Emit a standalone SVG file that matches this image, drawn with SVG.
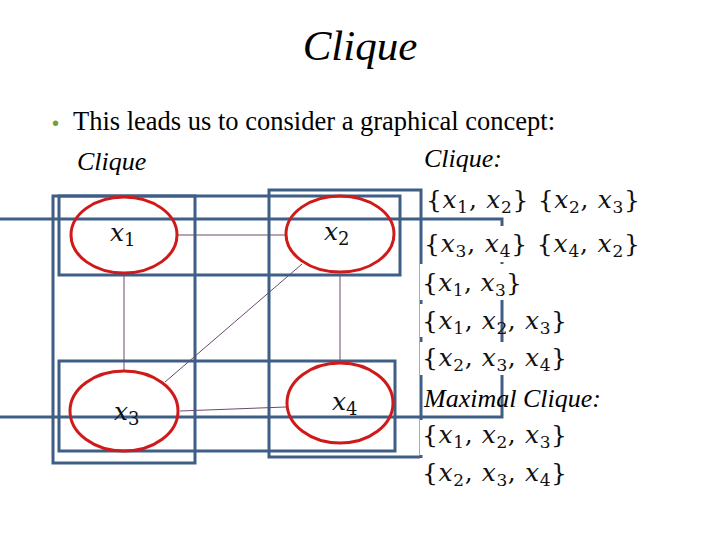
<svg xmlns="http://www.w3.org/2000/svg" width="720" height="540" viewBox="0 0 720 540">
<style>
.t{font-family:"Liberation Serif",serif;fill:#000}
.i{font-style:italic}
.m{font-family:"DejaVu Serif","Liberation Serif",serif;font-size:25px;fill:#111}
.box{fill:none;stroke:#3f5e85;stroke-width:3}
.ell{fill:none;stroke:#d01a1a;stroke-width:3}
.e{stroke:#6a4a70;stroke-width:1}
.bg{fill:#fff}
</style>
<rect width="720" height="540" fill="#fff"/>
<text class="t i" x="360" y="60" font-size="43" text-anchor="middle">Clique</text>
<text x="52" y="130" font-size="20" fill="#7a9a3a" font-family="Liberation Sans,sans-serif">•</text>
<text class="t" x="73" y="130" font-size="26.5">This leads us to consider a graphical concept:</text>
<text class="t i" x="77" y="170" font-size="26">Clique</text>
<g id="boxes">
<rect class="box" x="-5" y="219" width="507" height="198"/>
<rect class="box" x="59" y="196" width="341" height="79"/>
<rect class="box" x="53" y="196" width="142" height="267"/>
<rect class="box" x="269" y="190" width="152" height="267"/>
<rect class="box" x="59" y="361" width="336" height="90"/>
</g>
<g id="connectors">
<line class="e" x1="178" y1="235" x2="286" y2="235"/>
<line class="e" x1="124" y1="276" x2="124" y2="371"/>
<line class="e" x1="340" y1="276" x2="340" y2="362"/>
<line class="e" x1="302" y1="264" x2="165" y2="382"/>
<line class="e" x1="180" y1="411" x2="286" y2="407"/>
</g>
<g id="n1"><ellipse class="ell" cx="124" cy="235" rx="53" ry="38"/><text class="m i" x="110" y="241" font-size="27">x<tspan font-size="18" font-style="normal" dy="5">1</tspan></text></g>
<g id="n2"><ellipse class="ell" cx="340" cy="234" rx="54" ry="38"/><text class="m i" x="324" y="240" font-size="27">x<tspan font-size="18" font-style="normal" dy="5">2</tspan></text></g>
<g id="n3"><ellipse class="ell" cx="124" cy="411" rx="54" ry="40"/><text class="m i" x="114" y="420" font-size="27">x<tspan font-size="18" font-style="normal" dy="5">3</tspan></text></g>
<g id="n4"><ellipse class="ell" cx="340" cy="403" rx="53" ry="40"/><text class="m i" x="332" y="410" font-size="27">x<tspan font-size="18" font-style="normal" dy="5">4</tspan></text></g>
<g id="list">
<rect class="bg" x="424" y="226" width="218" height="36"/>
<rect class="bg" x="420" y="264" width="106" height="36"/>
<rect class="bg" x="420" y="304" width="80" height="33"/>
<rect class="bg" x="504" y="304" width="68" height="33"/>
<rect class="bg" x="420" y="342" width="150" height="33"/>
<rect class="bg" x="420" y="420" width="150" height="35"/>
<rect class="bg" x="420" y="458" width="150" height="35"/>
<text class="t i" x="424" y="167" font-size="26">Clique:</text>
<text class="m" x="426" y="208" textLength="214">{<tspan font-style="italic">x</tspan><tspan font-size="17" dy="5">1</tspan><tspan dy="-5">, </tspan><tspan font-style="italic">x</tspan><tspan font-size="17" dy="5">2</tspan><tspan dy="-5">} {</tspan><tspan font-style="italic">x</tspan><tspan font-size="17" dy="5">2</tspan><tspan dy="-5">, </tspan><tspan font-style="italic">x</tspan><tspan font-size="17" dy="5">3</tspan><tspan dy="-5">}</tspan></text>
<text class="m" x="424" y="252" textLength="216">{<tspan font-style="italic">x</tspan><tspan font-size="17" dy="5">3</tspan><tspan dy="-5">, </tspan><tspan font-style="italic">x</tspan><tspan font-size="17" dy="5">4</tspan><tspan dy="-5">} {</tspan><tspan font-style="italic">x</tspan><tspan font-size="17" dy="5">4</tspan><tspan dy="-5">, </tspan><tspan font-style="italic">x</tspan><tspan font-size="17" dy="5">2</tspan><tspan dy="-5">}</tspan></text>
<text class="m" x="422" y="291" textLength="100">{<tspan font-style="italic">x</tspan><tspan font-size="17" dy="5">1</tspan><tspan dy="-5">, </tspan><tspan font-style="italic">x</tspan><tspan font-size="17" dy="5">3</tspan><tspan dy="-5">}</tspan></text>
<text class="m" x="422" y="329" textLength="145">{<tspan font-style="italic">x</tspan><tspan font-size="17" dy="5">1</tspan><tspan dy="-5">, </tspan><tspan font-style="italic">x</tspan><tspan font-size="17" dy="5">2</tspan><tspan dy="-5">, </tspan><tspan font-style="italic">x</tspan><tspan font-size="17" dy="5">3</tspan><tspan dy="-5">}</tspan></text>
<text class="m" x="422" y="366" textLength="145">{<tspan font-style="italic">x</tspan><tspan font-size="17" dy="5">2</tspan><tspan dy="-5">, </tspan><tspan font-style="italic">x</tspan><tspan font-size="17" dy="5">3</tspan><tspan dy="-5">, </tspan><tspan font-style="italic">x</tspan><tspan font-size="17" dy="5">4</tspan><tspan dy="-5">}</tspan></text>
<text class="t i" x="424" y="407" font-size="26">Maximal Clique:</text>
<text class="m" x="422" y="443" textLength="145">{<tspan font-style="italic">x</tspan><tspan font-size="17" dy="5">1</tspan><tspan dy="-5">, </tspan><tspan font-style="italic">x</tspan><tspan font-size="17" dy="5">2</tspan><tspan dy="-5">, </tspan><tspan font-style="italic">x</tspan><tspan font-size="17" dy="5">3</tspan><tspan dy="-5">}</tspan></text>
<text class="m" x="422" y="481" textLength="145">{<tspan font-style="italic">x</tspan><tspan font-size="17" dy="5">2</tspan><tspan dy="-5">, </tspan><tspan font-style="italic">x</tspan><tspan font-size="17" dy="5">3</tspan><tspan dy="-5">, </tspan><tspan font-style="italic">x</tspan><tspan font-size="17" dy="5">4</tspan><tspan dy="-5">}</tspan></text>
</g>
</svg>
